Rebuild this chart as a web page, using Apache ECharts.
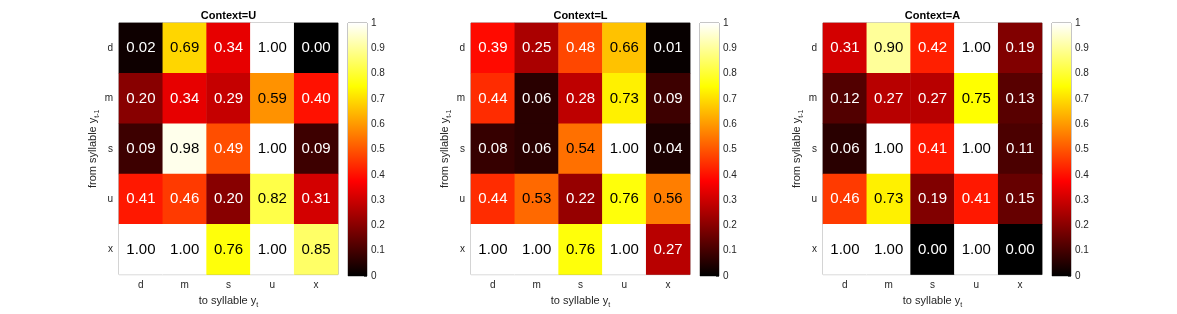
<!DOCTYPE html>
<html>
<head>
<meta charset="utf-8">
<script src="https://cdn.jsdelivr.net/npm/echarts@6/dist/echarts.min.js"></script>
<style>html,body{margin:0;padding:0;background:#fff}#c{width:1177px;height:314px}</style>
</head>
<body>
<div id="c"></div>
<script>
const categories = ['d', 'm', 's', 'u', 'x'];
const contexts = ['U', 'L', 'A'];
const valuesU = [
  [0.02, 0.69, 0.34, 1.00, 0.00],
  [0.20, 0.34, 0.29, 0.59, 0.40],
  [0.09, 0.98, 0.49, 1.00, 0.09],
  [0.41, 0.46, 0.20, 0.82, 0.31],
  [1.00, 1.00, 0.76, 1.00, 0.85]
];
const valuesL = [
  [0.39, 0.25, 0.48, 0.66, 0.01],
  [0.44, 0.06, 0.28, 0.73, 0.09],
  [0.08, 0.06, 0.54, 1.00, 0.04],
  [0.44, 0.53, 0.22, 0.76, 0.56],
  [1.00, 1.00, 0.76, 1.00, 0.27]
];
const valuesA = [
  [0.31, 0.90, 0.42, 1.00, 0.19],
  [0.12, 0.27, 0.27, 0.75, 0.13],
  [0.06, 1.00, 0.41, 1.00, 0.11],
  [0.46, 0.73, 0.19, 0.41, 0.15],
  [1.00, 1.00, 0.00, 1.00, 0.00]
];
const colorbarTicks = [0, 0.1, 0.2, 0.3, 0.4, 0.5, 0.6, 0.7, 0.8, 0.9, 1];

const panels = [valuesU, valuesL, valuesA];
const hot = ['#000000','#550000','#aa0000','#ff0000','#ff5500','#ffaa00','#ffff00','#ffff80','#ffffff'];
const FONT = 'Liberation Sans, Arial, sans-serif';
const TXT = '#262626';
const lefts = [119, 471, 823];
const cbLefts = [348, 700, 1052];
const TOP = 23, W = 219, H = 253, CBW = 19;

const grid = [], xAxis = [], yAxis = [], series = [], graphic = [];
panels.forEach((vals, p) => {
  grid.push({left: lefts[p], top: TOP, width: W, height: H, show: true, borderColor: '#8c8c8c', borderWidth: 1, backgroundColor: 'transparent'});
  grid.push({left: cbLefts[p], top: TOP, width: CBW, height: H, show: true, borderColor: '#8c8c8c', borderWidth: 1, backgroundColor: 'transparent'});
  const gi = p * 2, ci = p * 2 + 1;
  xAxis.push({
    type: 'category', gridIndex: gi, data: categories,
    axisLine: {show: false}, axisTick: {show: false},
    axisLabel: {color: TXT, fontSize: 10, fontFamily: FONT, margin: 6},
    name: '{a|to syllable y}{b|t}', nameLocation: 'middle', nameGap: 12,
    nameTextStyle: {rich: {
      a: {fontSize: 11, fontFamily: FONT, color: TXT, lineHeight: 16, verticalAlign: 'middle'},
      b: {fontSize: 7, fontFamily: FONT, color: TXT, lineHeight: 7, verticalAlign: 'bottom'}
    }},
    splitLine: {show: false}
  });
  yAxis.push({
    type: 'category', gridIndex: gi, data: categories, inverse: true,
    axisLine: {show: false}, axisTick: {show: false},
    axisLabel: {color: TXT, fontSize: 10, fontFamily: FONT, margin: 6},
    name: '{a|from syllable y}{b|t-1}', nameLocation: 'middle', nameGap: 18, nameRotate: 90,
    nameTextStyle: {rich: {
      a: {fontSize: 11, fontFamily: FONT, color: TXT, lineHeight: 16, verticalAlign: 'middle'},
      b: {fontSize: 7, fontFamily: FONT, color: TXT, lineHeight: 7, verticalAlign: 'bottom'}
    }},
    splitLine: {show: false}
  });
  xAxis.push({type: 'category', gridIndex: ci, data: ['cb'], show: false, boundaryGap: true});
  yAxis.push({
    type: 'value', gridIndex: ci, min: 0, max: 1, interval: 0.1, position: 'right',
    axisLine: {show: false},
    axisTick: {show: true, inside: true, length: 3, lineStyle: {color: '#555'}},
    axisLabel: {color: TXT, fontSize: 10, fontFamily: FONT, margin: 4,
      formatter: v => (v === 0 || v === 1) ? String(v) : v.toFixed(1)},
    splitLine: {show: false}
  });
  const data = [];
  vals.forEach((row, r) => row.forEach((v, c) => {
    data.push({value: [c, r, v], label: {color: v >= 0.5 ? '#000' : '#fff'}});
  }));
  series.push({
    type: 'heatmap', xAxisIndex: gi, yAxisIndex: gi, data: data,
    label: {show: true, fontSize: 15, fontFamily: FONT, formatter: pr => pr.value[2].toFixed(2)},
    itemStyle: {borderWidth: 0},
    emphasis: {disabled: true}
  });
  series.push({
    type: 'bar', xAxisIndex: ci, yAxisIndex: ci, data: [colorbarTicks[colorbarTicks.length - 1]],
    barWidth: '100%', silent: true,
    itemStyle: {color: new echarts.graphic.LinearGradient(0, 0, 0, 1, [
      {offset: 0, color: '#ffffff'}, {offset: 0.25, color: '#ffff00'},
      {offset: 0.625, color: '#ff0000'}, {offset: 1, color: '#000000'}
    ])}
  });
  graphic.push({type: 'text', x: lefts[p] + W / 2, y: 16,
    style: {text: 'Context=' + contexts[p], textAlign: 'center', textVerticalAlign: 'middle',
      font: 'bold 11px ' + FONT, fill: '#000'}});
});

const chart = echarts.init(document.getElementById('c'), null, {renderer: 'canvas'});
chart.setOption({
  animation: false,
  backgroundColor: '#fff',
  grid, xAxis, yAxis, series, graphic,
  visualMap: {show: false, type: 'continuous', min: 0, max: 1, dimension: 2,
    seriesIndex: [0, 2, 4], inRange: {color: hot}}
});
</script>
</body>
</html>
